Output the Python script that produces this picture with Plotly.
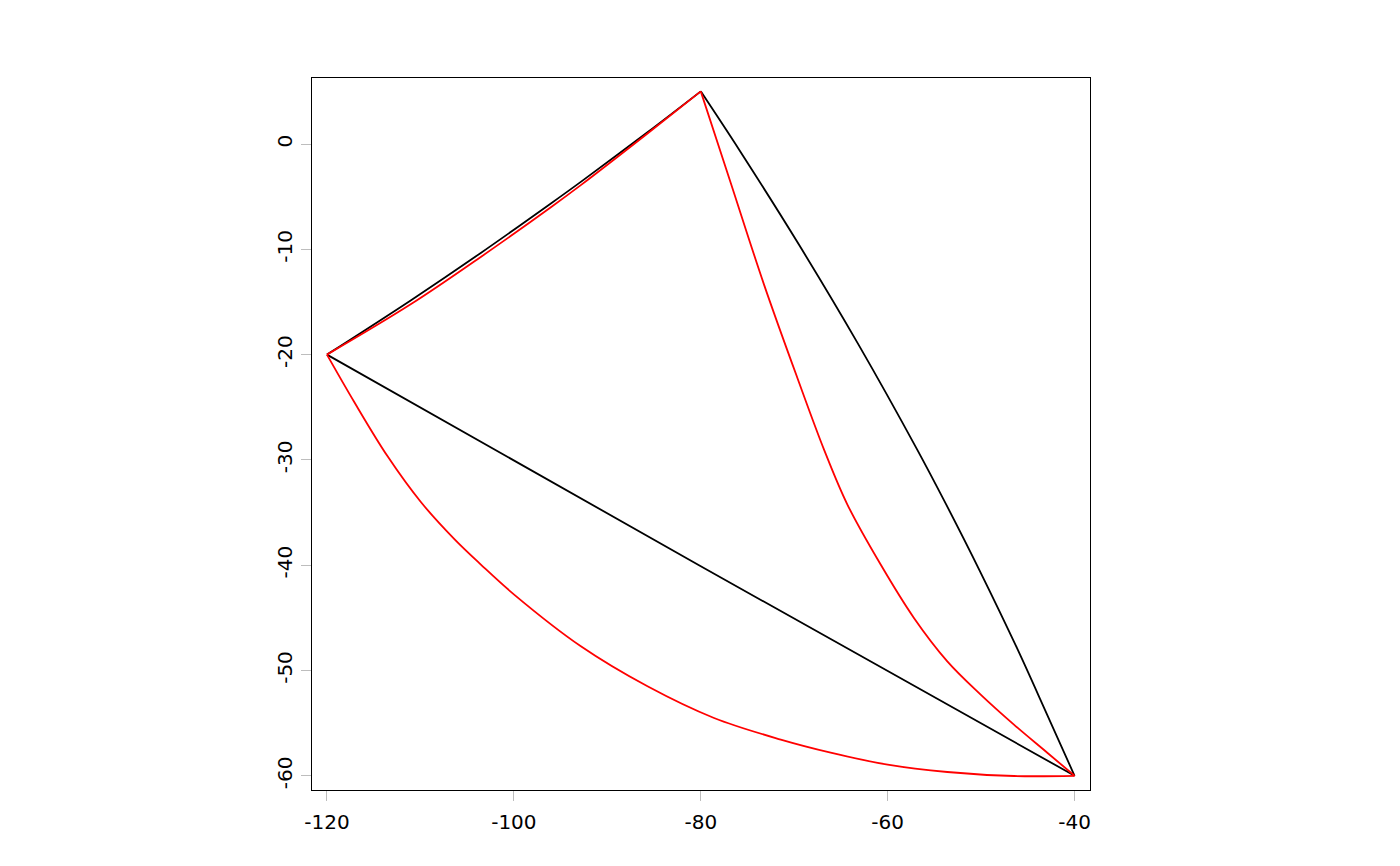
import plotly.graph_objects as go

# polygon vertices
vert_lon = [-120, -80, -40]
vert_lat = [-20, 5, -60]

# black edges (as drawn)
black_top_x = [-120, -111, -103.5, -96, -92.8, -85.7, -80]
black_top_y = [-20, -14.83, -10.32, -5.62, -3.57, 1.12, 5]
black_right_x = [-80, -75.79, -69.5, -63.12, -56.84, -53.73, -50.12, -46.17, -42.94, -40]
black_right_y = [5, -0.69, -9.55, -19.05, -29.02, -34.25, -40.58, -47.86, -54.19, -60]
black_bottom_x = [-40, -80, -120]
black_bottom_y = [-60, -40.1, -20]

# red edges (great circle arcs)
red_top_x = [-120, -111, -103.5, -96, -92.8, -85.7, -80]
red_top_y = [-20, -15.2, -10.7, -5.98, -3.88, 1.0, 5]
red_right_x = [-80, -76.79, -73.23, -69.66, -66.81, -64.31, -60.75, -57.19, -53.62, -50.05,
               -46.49, -42.92, -40]
red_right_y = [5, -3.7, -13.35, -22.22, -29.02, -34.24, -39.94, -45.01, -49.13, -52.29,
               -55.14, -57.81, -60]
red_bottom_x = [-40, -46.49, -53.62, -60, -66.1, -71.44, -78.58, -85.7, -92.83, -99.97,
                -103.53, -106.39, -109.95, -113.51, -117.08, -120]
red_bottom_y = [-60, -60.02, -59.64, -58.94, -57.8, -56.56, -54.51, -51.5, -47.7, -42.79,
                -39.94, -37.5, -34.0, -29.66, -24.5, -20]

x_ticks = [-120, -100, -80, -60, -40]
y_ticks = [0, -10, -20, -30, -40, -50, -60]

fig = go.Figure()

edges = [
    (black_top_x, black_top_y, 'black'),
    (black_right_x, black_right_y, 'black'),
    (black_bottom_x, black_bottom_y, 'black'),
    (red_top_x, red_top_y, 'red'),
    (red_right_x, red_right_y, 'red'),
    (red_bottom_x, red_bottom_y, 'red'),
]
for ex, ey, col in edges:
    fig.add_trace(go.Scatter(x=ex, y=ey, mode='lines',
                             line=dict(color=col, width=1.8, shape='spline', smoothing=1.0),
                             hoverinfo='skip'))

axis_font = dict(family='DejaVu Sans', size=20, color='black')

fig.update_layout(
    width=1400,
    height=866,
    paper_bgcolor='white',
    plot_bgcolor='white',
    showlegend=False,
    margin=dict(l=304, r=318, t=70, b=84),
    xaxis=dict(
        range=[-121.6, -38.35],
        tickvals=x_ticks,
        ticktext=[str(v) for v in x_ticks],
        showgrid=False, zeroline=False,
        showline=True, linecolor='black', linewidth=1, mirror=True,
        ticks='outside', ticklen=10, tickwidth=1, tickcolor='#bdbdbd',
        tickfont=axis_font,
        ticklabelstandoff=4,
    ),
    yaxis=dict(
        range=[-61.35, 6.27],
        tickvals=y_ticks,
        ticktext=[str(v) for v in y_ticks],
        showgrid=False, zeroline=False,
        showline=True, linecolor='black', linewidth=1, mirror=True,
        ticks='outside', ticklen=10, tickwidth=1, tickcolor='#bdbdbd',
        tickfont=axis_font,
        tickangle=-90,
        ticklabelstandoff=1,
    ),
)

fig.write_html("out.html")
